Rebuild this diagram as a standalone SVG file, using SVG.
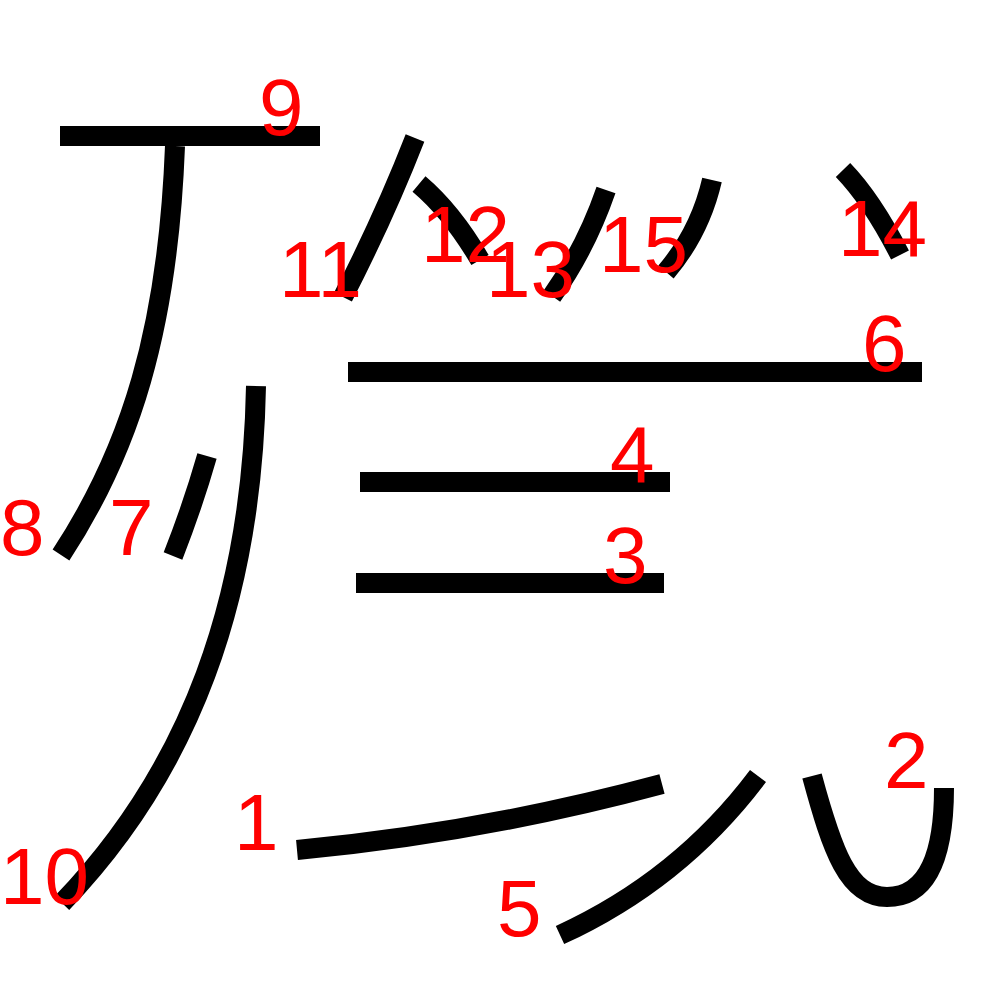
<svg xmlns="http://www.w3.org/2000/svg" width="1000" height="1000" viewBox="0 0 1000 1000">
<style>
.s{fill:none;stroke:#000;stroke-width:20;stroke-linecap:butt;stroke-linejoin:round}
.n{fill:#ff0000;font-family:"Liberation Sans",Arial,Helvetica,sans-serif;font-size:80px}
</style>
<rect width="1000" height="1000" fill="#fff"/>
<g id="stroke1"><path class="s" d="M297,850 Q480,833 662,784"/><text class="n" x="234" y="850">1</text></g>
<g id="stroke2"><path class="s" d="M812,776 C832,850 848,897 887,897 C930,897 944,850 944,788"/><text class="n" x="884" y="788">2</text></g>
<g id="stroke3"><path class="s" d="M356,583 H664"/><text class="n" x="603" y="583">3</text></g>
<g id="stroke4"><path class="s" d="M360,482 H670"/><text class="n" x="610" y="482">4</text></g>
<g id="stroke5"><path class="s" d="M560,935 Q680,880 758,776"/><text class="n" x="497" y="936">5</text></g>
<g id="stroke6"><path class="s" d="M348,372 H922"/><text class="n" x="862" y="371">6</text></g>
<g id="stroke7"><path class="s" d="M207,456 Q193,505 173,556"/><text class="n" x="109" y="555">7</text></g>
<g id="stroke8"><path class="s" d="M175,146 C168,330 130,450 61,555"/><text class="n" x="0" y="555">8</text></g>
<g id="stroke9"><path class="s" d="M60,136 H320"/><text class="n" x="259" y="135">9</text></g>
<g id="stroke10"><path class="s" d="M256,386 C252,600 190,770 62,903"/><text class="n" x="0" y="904">10</text></g>
<g id="stroke11"><path class="s" d="M415,138 Q385,215 343,297"/><text class="n" x="279" y="297">11</text></g>
<g id="stroke12"><path class="s" d="M419,184 Q452,212 480,260"/><text class="n" x="421" y="262">12</text></g>
<g id="stroke13"><path class="s" d="M606,190 Q586,248 552,296"/><text class="n" x="486" y="297">13</text></g>
<g id="stroke14"><path class="s" d="M843,170 Q872,200 900,255"/><text class="n" x="838" y="256">14</text></g>
<g id="stroke15"><path class="s" d="M712,180 Q700,232 666,272"/><text class="n" x="599" y="272">15</text></g>
</svg>
